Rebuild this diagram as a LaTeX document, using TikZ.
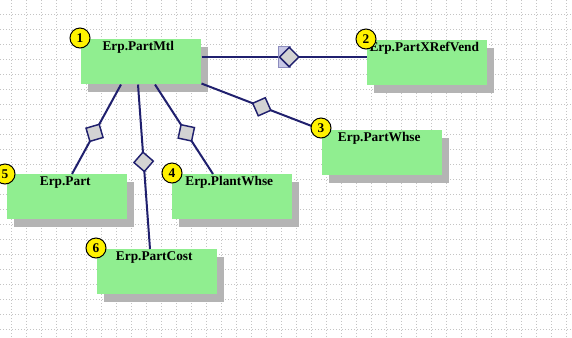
\documentclass[tikz,border=0pt]{standalone}
\usepackage{fontspec}
\setmainfont{Liberation Serif}
\usetikzlibrary{calc,shapes.geometric,shadows}

\definecolor{boxgreen}{HTML}{90EE90}
\definecolor{linknavy}{HTML}{20206E}
\definecolor{aggfill}{HTML}{D3D3D3}
\definecolor{gridgray}{HTML}{C4C4C4}
\definecolor{shadowgray}{HTML}{B4B4B4}
\definecolor{lavfill}{HTML}{C8C8E6}
\definecolor{lavdraw}{HTML}{8C8CBE}

\tikzset{
  tblbox/.style={rectangle,fill=boxgreen,anchor=north west,
    minimum width=90pt,minimum height=33.75pt,inner xsep=0pt,inner ysep=1.5pt,
    text height=6.75pt,text depth=24pt,font=\bfseries,
    drop shadow={shadow xshift=5.25pt,shadow yshift=-6pt,fill=shadowgray,opacity=1}},
  badge/.style={circle,fill=yellow,draw=black,line width=0.75pt,
    minimum size=15pt,inner sep=0pt,font=\bfseries},
  link/.style={draw=linknavy,line width=1.5pt},
  agg/.style={diamond,aspect=1,fill=aggfill,draw=linknavy,line width=1.1pt,
    minimum size=15pt,inner sep=0pt},
  gridline/.style={gridgray,line width=0.75pt,dash pattern=on 0.75pt off 1.5pt}
}

\begin{document}
\begin{tikzpicture}[x=0.75pt,y=-0.75pt]
    \useasboundingbox (0,0) rectangle (572,337);
    \fill[white] (0,0) rectangle (572,337);

    % background grid
    \foreach \gx in {11,26,...,566}
        \draw[gridline] (\gx,0) -- (\gx,337);
    \foreach \gy in {14,29,...,329}
        \draw[gridline] (0,\gy) -- (572,\gy);

    % tables
    \node[tblbox] (mtl) at (81,39) {Erp.PartMtl\hspace*{4.5pt}};
    \node[tblbox] (xref) at (367,40) {Erp.PartXRefVend\hspace*{4.5pt}};
    \node[tblbox] (pwhse) at (322,130) {Erp.PartWhse\hspace*{4.5pt}};
    \node[tblbox] (part) at (7,174) {Erp.Part\hspace*{3pt}};
    \node[tblbox] (plant) at (172,174) {Erp.PlantWhse\hspace*{4.5pt}};
    \node[tblbox] (cost) at (97,249) {Erp.PartCost\hspace*{4.5pt}};

    % relations
    \coordinate (x1) at ($(mtl.north east)+(0,18)$);
    \coordinate (x2) at ($(xref.north west)+(0,17)$);
    \draw[link] (x1) -- (x2);
    \fill[lavfill,draw=lavdraw,line width=0.75pt] (278,46) rectangle (290,67);
    \path (x1) -- node[agg,pos=.53] (agg2) {} (x2);

    \draw[link] ($(mtl.south east)+(0,-1)$) -- node[agg,sloped,pos=.5] (agg3) {} (pwhse.north west);
    \draw[link] ($(mtl.south west)+(40,0)$) -- node[agg,sloped,pos=.54] (agg5) {} ($(part.north west)+(65,0)$);
    \draw[link] ($(mtl.south west)+(57,0)$) -- node[agg,sloped,pos=.47] (agg6) {} ($(cost.north west)+(53,0)$);
    \draw[link] ($(mtl.south west)+(74,0)$) -- node[agg,sloped,pos=.54] (agg4) {} ($(plant.north west)+(41,0)$);

    % numbers
    \node[badge] (n1) at ([shift={(-1,-1)}]mtl.north west) {1};
    \node[badge] (n2) at ([shift={(-1,-1)}]xref.north west) {2};
    \node[badge] (n3) at ([shift={(-1,-2)}]pwhse.north west) {3};
    \node[badge] (n4) at ([shift={(0,-1)}]plant.north west) {4};
    \node[badge] (n5) at ([shift={(-2,0)}]part.north west) {5};
    \node[badge] (n6) at ([shift={(-1,-1)}]cost.north west) {6};
\end{tikzpicture}
\end{document}
